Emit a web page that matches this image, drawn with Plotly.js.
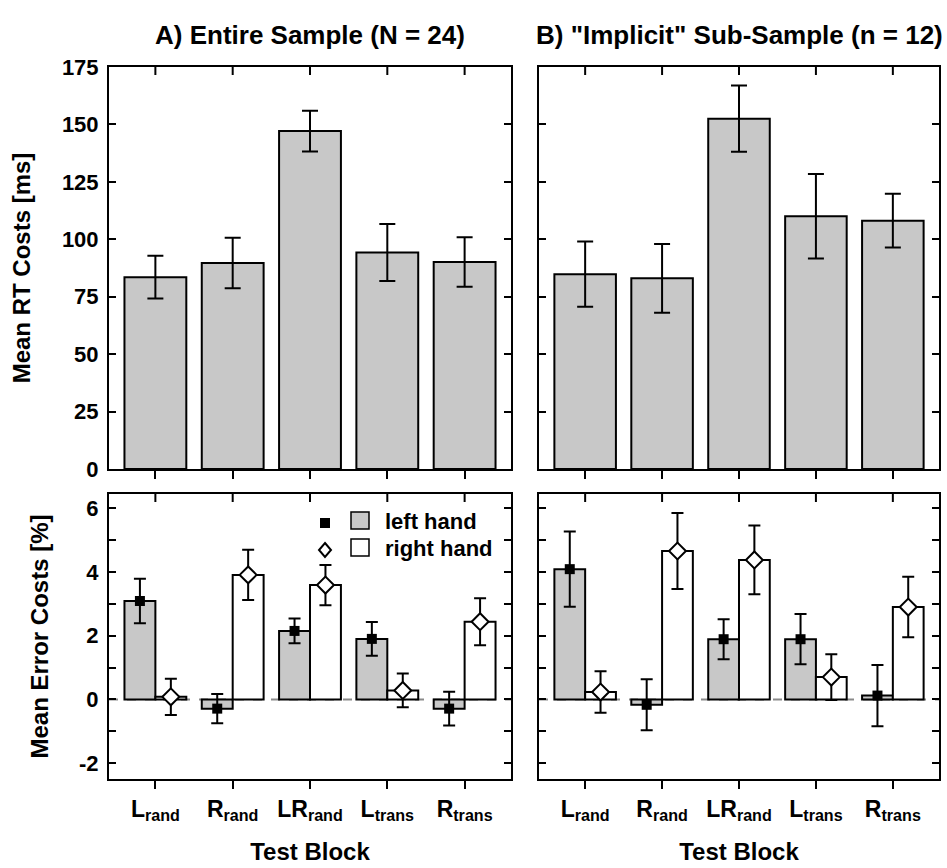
<!DOCTYPE html>
<html><head><meta charset="utf-8">
<script src="https://cdn.plot.ly/plotly-3.0.1.min.js"></script>
<style>html,body{margin:0;padding:0;background:#fff;} #chart{width:947px;height:868px;}</style>
</head><body><div id="chart"></div>
<script>
// ---- data ----
const blocks = ['L<sub>rand</sub>', 'R<sub>rand</sub>', 'LR<sub>rand</sub>', 'L<sub>trans</sub>', 'R<sub>trans</sub>'];
const rtEntire = [83.5, 89.7, 147.1, 94.2, 90.1];
const rtEntireErr = [9.3, 11.0, 8.9, 12.4, 10.8];
const rtImplicit = [84.8, 83.0, 152.5, 110.0, 108.1];
const rtImplicitErr = [14.2, 15.0, 14.4, 18.4, 11.7];
const errEntireLeft = [3.09, -0.29, 2.15, 1.90, -0.29];
const errEntireLeftErr = [0.70, 0.46, 0.39, 0.53, 0.53];
const errEntireRight = [0.08, 3.91, 3.59, 0.28, 2.44];
const errEntireRightErr = [0.57, 0.79, 0.63, 0.53, 0.74];
const errImplicitLeft = [4.09, -0.17, 1.89, 1.89, 0.12];
const errImplicitLeftErr = [1.18, 0.80, 0.63, 0.79, 0.96];
const errImplicitRight = [0.23, 4.66, 4.38, 0.70, 2.90];
const errImplicitRightErr = [0.65, 1.19, 1.08, 0.72, 0.95];
const rtTicks = [0, 25, 50, 75, 100, 125, 150, 175];
const errTickVals = [-2, 0, 2, 4, 6];
const errTickText = ['-2', '0', '2', '4', '6'];
const panelTitles = ['A) Entire Sample (N = 24)', 'B) "Implicit" Sub-Sample (n = 12)'];
const legendLabels = ['left hand', 'right hand'];

// ---- helpers ----
const W = 947, H = 868;
const px = x => x / W;
const py = y => 1 - y / H;
const idx = blocks.map((_, i) => i);
const GRAY = '#c8c8c8';
const FONT = 'Liberation Sans, Arial, Helvetica, sans-serif';

function rtBar(y, err, xa, ya) {
  return {type: 'bar', x: idx, y: y, xaxis: xa, yaxis: ya, width: 0.8,
    marker: {color: GRAY, line: {color: 'black', width: 2}},
    error_y: {type: 'data', array: err, visible: true, color: 'black', thickness: 2, width: 8},
    showlegend: false, hoverinfo: 'y'};
}
function handBar(y, xa, ya, color) {
  return {type: 'bar', x: idx, y: y, xaxis: xa, yaxis: ya,
    marker: {color: color, line: {color: 'black', width: 2}}, showlegend: false, hoverinfo: 'y'};
}
function handPts(y, err, xa, ya, shift, sym) {
  return {type: 'scatter', mode: 'markers', x: idx.map(i => i + shift), y: y, xaxis: xa, yaxis: ya,
    marker: sym === 'sq' ? {symbol: 'square', size: 10, color: 'black'} :
      {symbol: 'diamond', size: 13, color: 'white', line: {color: 'black', width: 2}},
    error_y: {type: 'data', array: err, visible: true, color: 'black', thickness: 2, width: 6},
    showlegend: false, hoverinfo: 'y'};
}

const data = [
  rtBar(rtEntire, rtEntireErr, 'x', 'y'),
  rtBar(rtImplicit, rtImplicitErr, 'x2', 'y2'),
  handBar(errEntireLeft, 'x3', 'y3', GRAY),
  handBar(errEntireRight, 'x3', 'y3', 'white'),
  handBar(errImplicitLeft, 'x4', 'y4', GRAY),
  handBar(errImplicitRight, 'x4', 'y4', 'white'),
  handPts(errEntireLeft, errEntireLeftErr, 'x3', 'y3', -0.2, 'sq'),
  handPts(errEntireRight, errEntireRightErr, 'x3', 'y3', 0.2, 'dia'),
  handPts(errImplicitLeft, errImplicitLeftErr, 'x4', 'y4', -0.2, 'sq'),
  handPts(errImplicitRight, errImplicitRightErr, 'x4', 'y4', 0.2, 'dia')
];

const leftDom = [px(109), px(511)];
const rightDom = [px(539), px(939)];
const topDom = [py(469), py(67)];
const botDom = [py(779), py(494)];
const xr = [-0.6, 4.6];

function xAxis(dom, anchor, labels) {
  const a = {domain: dom, anchor: anchor, range: xr, tickmode: 'array', tickvals: idx,
    ticks: 'outside', ticklen: 8, tickwidth: 2, tickcolor: 'black',
    showline: true, linewidth: 2, linecolor: 'black', mirror: true,
    showgrid: false, zeroline: false, fixedrange: true};
  if (labels) {
    a.ticktext = blocks; a.showticklabels = true;
    a.tickfont = {size: 23, family: FONT, color: 'black', weight: 'bold'};
    a.title = {text: 'Test Block', font: {size: 24, family: FONT, color: 'black', weight: 'bold'}, standoff: 20};
  } else {
    a.showticklabels = false;
  }
  return a;
}
function rtY(dom, anchor, labels) {
  const a = {domain: dom, anchor: anchor, range: [0, 175], tickmode: 'array', tickvals: rtTicks,
    ticks: 'inside', ticklen: 7, tickwidth: 2, tickcolor: 'black',
    showline: true, linewidth: 2, linecolor: 'black', mirror: 'ticks',
    showgrid: false, zeroline: false, fixedrange: true, showticklabels: labels,
    tickfont: {size: 22, family: FONT, color: 'black', weight: 'bold'}, ticklabelstandoff: 4};
  if (labels) a.title = {text: 'Mean RT Costs [ms]', font: {size: 24, family: FONT, color: 'black', weight: 'bold'}, standoff: 24};
  return a;
}
function errY(dom, anchor, labels) {
  const a = {domain: dom, anchor: anchor, range: [-2.5, 6.45], tickmode: 'array',
    tickvals: errTickVals, ticktext: errTickText,
    ticks: 'inside', ticklen: 7, tickwidth: 2, tickcolor: 'black',
    minor: {tickmode: 'linear', tick0: 0, dtick: 1, ticks: 'inside', ticklen: 7, tickwidth: 2, tickcolor: 'black'},
    showline: true, linewidth: 2, linecolor: 'black', mirror: 'ticks',
    showgrid: false, zeroline: false, fixedrange: true, showticklabels: labels,
    tickfont: {size: 22, family: FONT, color: 'black', weight: 'bold'}, ticklabelstandoff: 4};
  if (labels) a.title = {text: 'Mean Error Costs [%]', font: {size: 24, family: FONT, color: 'black', weight: 'bold'}, standoff: 24};
  return a;
}

// inward tick marks along the top edge of each panel, placed at the category positions
const topTickShapes = [];
[['x', 'y', 402], ['x2', 'y2', 402], ['x3', 'y3', 285], ['x4', 'y4', 285]].forEach(([xa, ya, hpx]) => {
  idx.forEach(i => topTickShapes.push({type: 'line', xref: xa, yref: ya + ' domain',
    x0: i, x1: i, y0: 1, y1: 1 - 8 / hpx, line: {color: 'black', width: 2}}));
});

const shapes = [
  {type: 'line', xref: 'x3 domain', yref: 'y3', x0: 0, x1: 1, y0: 0, y1: 0, layer: 'below',
    line: {color: '#8a8a8a', width: 2, dash: 'dash'}},
  {type: 'line', xref: 'x4 domain', yref: 'y4', x0: 0, x1: 1, y0: 0, y1: 0, layer: 'below',
    line: {color: '#8a8a8a', width: 2, dash: 'dash'}},
  // legend symbols
  {type: 'rect', xref: 'paper', yref: 'paper', x0: px(320), x1: px(330), y0: py(528), y1: py(518),
    fillcolor: 'black', line: {width: 0}},
  {type: 'path', xref: 'paper', yref: 'paper',
    path: `M ${px(325)} ${py(543)} L ${px(331)} ${py(550)} L ${px(325)} ${py(557)} L ${px(319)} ${py(550)} Z`,
    fillcolor: 'white', line: {color: 'black', width: 2}},
  {type: 'rect', xref: 'paper', yref: 'paper', x0: px(351), x1: px(369), y0: py(529), y1: py(512),
    fillcolor: GRAY, line: {color: 'black', width: 1.5}},
  {type: 'rect', xref: 'paper', yref: 'paper', x0: px(351), x1: px(369), y0: py(556), y1: py(539),
    fillcolor: 'white', line: {color: 'black', width: 1.5}}
].concat(topTickShapes);

const annFont = {size: 26, family: FONT, color: 'black', weight: 'bold'};
const legFont = {size: 22, family: FONT, color: 'black', weight: 'bold'};
const annotations = [
  {text: panelTitles[0], xref: 'paper', yref: 'paper', x: (leftDom[0] + leftDom[1]) / 2, y: py(35),
    xanchor: 'center', yanchor: 'middle', showarrow: false, font: annFont},
  {text: panelTitles[1], xref: 'paper', yref: 'paper', x: (rightDom[0] + rightDom[1]) / 2, y: py(35),
    xanchor: 'center', yanchor: 'middle', showarrow: false, font: annFont},
  {text: legendLabels[0], xref: 'paper', yref: 'paper', x: px(383), y: py(521),
    xanchor: 'left', yanchor: 'middle', showarrow: false, font: legFont},
  {text: legendLabels[1], xref: 'paper', yref: 'paper', x: px(383), y: py(548),
    xanchor: 'left', yanchor: 'middle', showarrow: false, font: legFont}
];

const layout = {
  width: W, height: H, margin: {l: 0, r: 0, t: 0, b: 0},
  paper_bgcolor: 'white', plot_bgcolor: 'white',
  font: {family: FONT, size: 22, color: 'black', weight: 'bold'},
  barmode: 'group', bargap: 0.2, bargroupgap: 0,
  showlegend: false,
  xaxis: xAxis(leftDom, 'y', false),
  yaxis: rtY(topDom, 'x', true),
  xaxis2: xAxis(rightDom, 'y2', false),
  yaxis2: rtY(topDom, 'x2', false),
  xaxis3: xAxis(leftDom, 'y3', true),
  yaxis3: errY(botDom, 'x3', true),
  xaxis4: xAxis(rightDom, 'y4', true),
  yaxis4: errY(botDom, 'x4', false),
  shapes: shapes,
  annotations: annotations
};

Plotly.newPlot('chart', data, layout, {displayModeBar: false, staticPlot: true});
</script>
</body></html>
